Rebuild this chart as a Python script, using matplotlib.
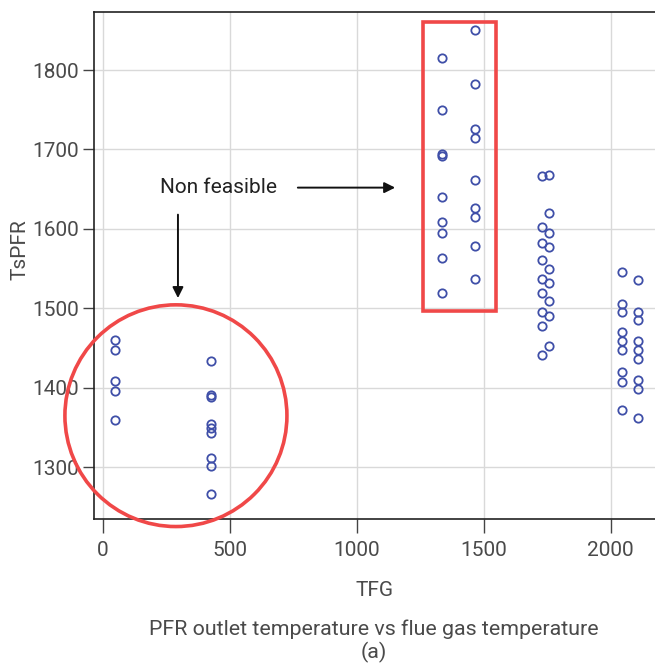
import matplotlib.pyplot as plt
from matplotlib.patches import Ellipse, Rectangle

# data, grouped by TFG column
tfg_levels = [49, 427, 1335, 1467, 1729, 1759, 2044, 2107]
tspfr_groups = [
    [1460, 1448, 1409, 1396, 1359],
    [1434, 1391, 1389, 1354, 1349, 1343, 1312, 1302, 1266],
    [1815, 1750, 1694, 1692, 1640, 1609, 1595, 1563, 1520],
    [1850, 1783, 1726, 1715, 1661, 1626, 1615, 1579, 1537],
    [1666, 1603, 1582, 1561, 1537, 1520, 1496, 1478, 1441],
    [1668, 1620, 1595, 1577, 1550, 1532, 1509, 1490, 1453],
    [1546, 1506, 1496, 1470, 1459, 1448, 1420, 1407, 1372],
    [1536, 1496, 1485, 1459, 1448, 1436, 1410, 1399, 1362],
]
xticks = [0, 500, 1000, 1500, 2000]
yticks = [1300, 1400, 1500, 1600, 1700, 1800]

tfg = []
tspfr = []
for x, ys in zip(tfg_levels, tspfr_groups):
    tfg += [x] * len(ys)
    tspfr += ys

plt.rcParams['font.family'] = ['Roboto', 'DejaVu Sans']
txt = '#4a4a4a'
red = '#f04848'

fig = plt.figure(figsize=(6.55, 6.63), dpi=100)
ax = fig.add_axes([94 / 655, 1 - 519 / 663, 1 - 94 / 655, (519 - 12) / 663])

ax.plot(tfg, tspfr, 'o', ms=6, mfc='none', mec='#3f4fa8', mew=1.3, zorder=3)

ax.set_xlim(-33.5, 2175)
ax.set_ylim(1235, 1873)
ax.set_xticks(xticks)
ax.set_yticks(yticks)
ax.grid(True, color='#d9d9d9', lw=1)
ax.set_axisbelow(True)
ax.spines['right'].set_visible(False)
for s in ['left', 'bottom', 'top']:
    ax.spines[s].set_color('#222222')
    ax.spines[s].set_linewidth(1.2)
ax.tick_params(axis='x', length=10, width=1, color='#444444', labelsize=15,
               labelcolor=txt, pad=6)
ax.tick_params(axis='y', length=8, width=1, color='#444444', labelsize=15,
               labelcolor=txt, pad=3)

ax.set_xlabel('TFG', fontsize=15, color=txt, labelpad=15)
fig.text(20 / 655, 1 - 250 / 663, 'TsPFR', rotation=90, ha='center',
         va='center', fontsize=15, color=txt)
fig.text(374 / 655, 1 - 629 / 663, 'PFR outlet temperature vs flue gas temperature',
         ha='center', va='center', fontsize=15.4, color=txt)
fig.text(374 / 655, 1 - 652 / 663, '(a)', ha='center', va='center',
         fontsize=15.4, color=txt)

# highlight shapes
ax.add_patch(Ellipse((289, 1365), 874, 279, fill=False, ec=red, lw=2.6,
                     clip_on=False, zorder=4))
ax.add_patch(Rectangle((1262, 1497), 287, 363, fill=False, ec=red, lw=2.6,
                       clip_on=False, zorder=4))

ax.text(455, 1652, 'Non feasible', ha='center', va='center', fontsize=15,
        color='#222222')
arrow = dict(arrowstyle='-|>', color='#111111', lw=1.4, mutation_scale=16,
             shrinkA=0, shrinkB=0)
ax.annotate('', xy=(297, 1513), xytext=(297, 1618), arrowprops=arrow)
ax.annotate('', xy=(1152, 1652), xytext=(769, 1652), arrowprops=arrow)

fig.savefig('out.png', dpi=100)
